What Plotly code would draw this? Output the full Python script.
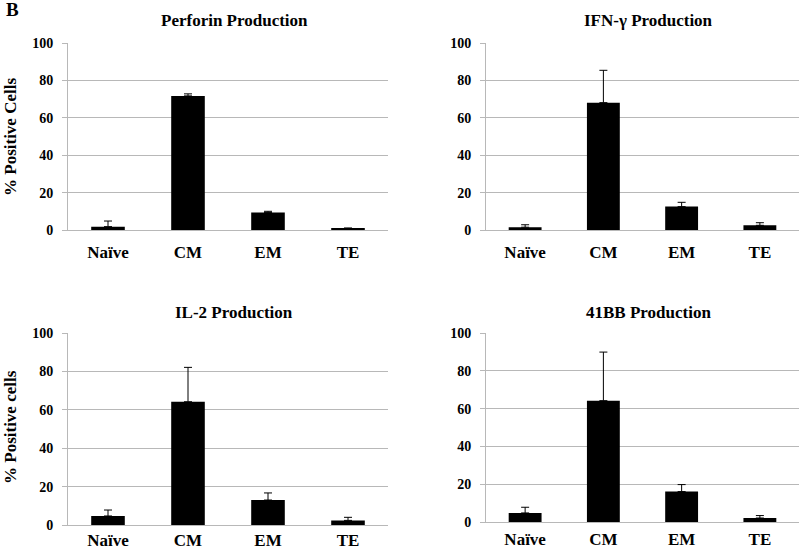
import plotly.graph_objects as go

categories = ["Naïve", "CM", "EM", "TE"]

perforin_vals = [1.8, 71.7, 9.4, 0.7]
perforin_err = [3.0, 1.1, 0.6, 0.4]

ifng_vals = [1.5, 68.1, 12.5, 2.5]
ifng_err = [1.3, 17.3, 2.3, 1.4]

il2_vals = [4.7, 64.2, 13.0, 2.4]
il2_err = [3.1, 17.9, 3.7, 1.6]

bb41_vals = [4.8, 64.2, 16.1, 2.1]
bb41_err = [3.0, 25.7, 3.7, 1.3]

titles = ["Perforin Production", "IFN-γ Production", "IL-2 Production", "41BB Production"]
ylabels = ["% Positive Cells", "% Positive cells"]
y_ticks = [0, 20, 40, 60, 80, 100]

W, H = 800, 549
FONT = "Liberation Serif"

# panel geometry in pixels: (x_left, x_right, y_zero, y_hundred, x-label standoff)
panels = [
    (68, 388, 230, 43, 7),
    (486, 799, 230, 43, 7),
    (68, 388, 525, 333, 0),
    (486, 799, 522, 333, 2),
]
series = [
    (perforin_vals, perforin_err),
    (ifng_vals, ifng_err),
    (il2_vals, il2_err),
    (bb41_vals, bb41_err),
]

fig = go.Figure()
layout = dict(
    width=W, height=H, margin=dict(l=0, r=0, t=0, b=0, autoexpand=False),
    paper_bgcolor="white", plot_bgcolor="white", showlegend=False,
    font=dict(family=FONT, color="black"),
)
annotations = []
grid = "#b8b8b8"
for i, ((xl, xr, y0, y100, so), (vals, err)) in enumerate(zip(panels, series)):
    n = "" if i == 0 else str(i + 1)
    fig.add_trace(go.Bar(
        x=categories, y=vals, width=0.42,
        marker=dict(color="black", line=dict(width=0)),
        error_y=dict(type="data", array=err, arrayminus=[0] * len(err), symmetric=False,
                     color="black", thickness=1, width=4),
        xaxis="x" + n, yaxis="y" + n,
    ))
    layout["xaxis" + n] = dict(
        domain=[xl / W, xr / W], anchor="y" + n, automargin=False,
        showline=True, linecolor=grid, linewidth=1, showgrid=False,
        ticks="", tickfont=dict(family=FONT, size=17, color="black", weight="bold"),
        ticklabelstandoff=so, fixedrange=True,
    )
    layout["yaxis" + n] = dict(
        domain=[1 - y0 / H, 1 - y100 / H], anchor="x" + n, automargin=False,
        range=[0, 100], tickvals=y_ticks,
        showline=True, linecolor=grid, linewidth=1,
        showgrid=True, gridcolor=grid, gridwidth=1,
        ticks="outside", ticklen=5, tickcolor=grid,
        tickfont=dict(family=FONT, size=14, color="black", weight="bold"),
        ticklabelstandoff=6, zeroline=False, fixedrange=True,
    )
    annotations.append(dict(
        text="<b>%s</b>" % titles[i], x=((xl + xr) / 2 + 6) / W, y=1 - (20 if i < 2 else 312) / H,
        xref="paper", yref="paper", xanchor="center", yanchor="middle", showarrow=False,
        font=dict(family=FONT, size=17, color="black"),
    ))

annotations.append(dict(
    text="<b>%s</b>" % ylabels[0], x=10 / W, y=1 - 137 / H, xref="paper", yref="paper",
    xanchor="center", yanchor="middle", textangle=-90, showarrow=False,
    font=dict(family=FONT, size=17, color="black"),
))
annotations.append(dict(
    text="<b>%s</b>" % ylabels[1], x=10 / W, y=1 - 427 / H, xref="paper", yref="paper",
    xanchor="center", yanchor="middle", textangle=-90, showarrow=False,
    font=dict(family=FONT, size=17, color="black"),
))
annotations.append(dict(
    text="<b>B</b>", x=4 / W, y=1 - 9 / H, xref="paper", yref="paper",
    xanchor="left", yanchor="middle", showarrow=False,
    font=dict(family=FONT, size=19, color="black"),
))
layout["annotations"] = annotations
fig.update_layout(**layout)
fig.write_html("out.html", config={"displayModeBar": False},
               post_script="document.body.style.margin='0';document.body.style.overflow='hidden';")
